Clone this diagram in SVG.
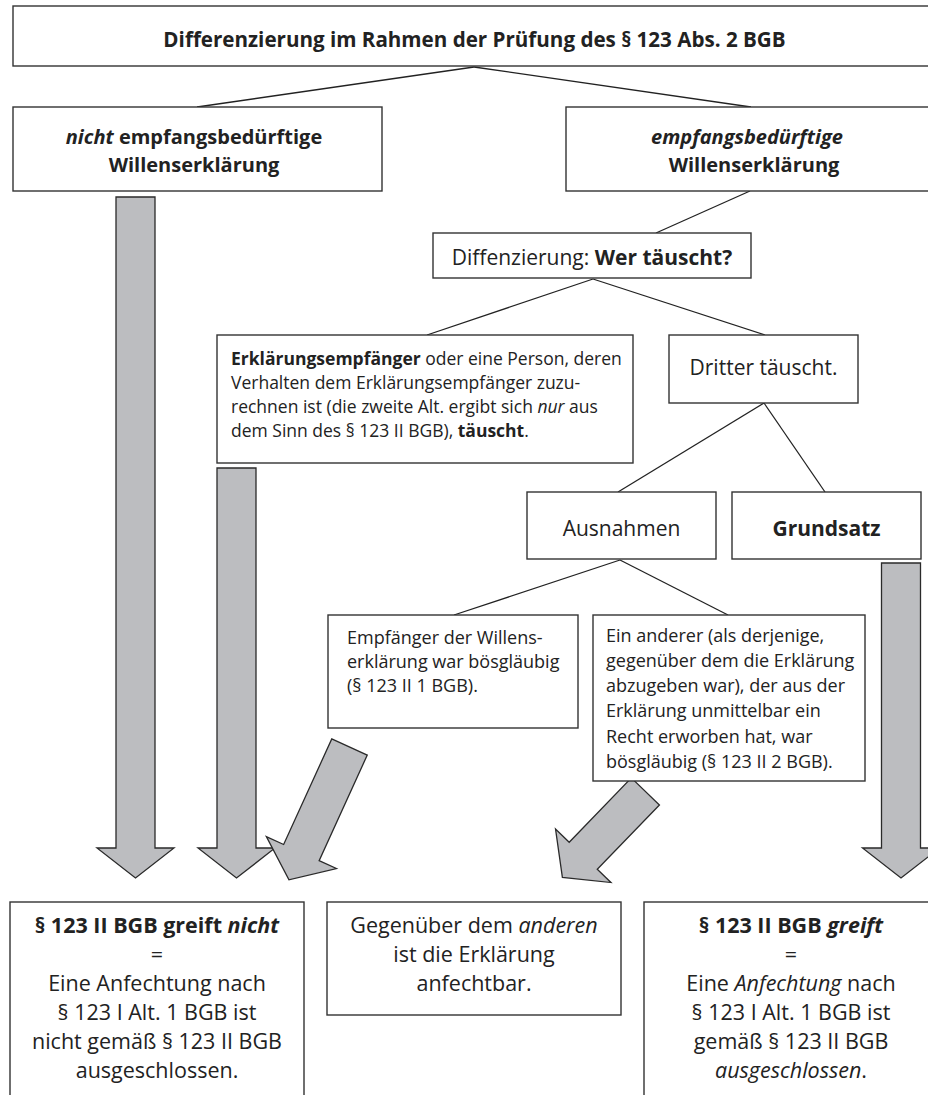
<svg xmlns="http://www.w3.org/2000/svg" width="928" height="1095" viewBox="0 0 928 1095">
<style>
  .box { fill: #fff; stroke: #333; stroke-width: 1.4; }
  .ln { stroke: #222; stroke-width: 1.3; fill: none; }
  .arr { fill: #bcbdc0; stroke: #2a2a2a; stroke-width: 1.3; stroke-linejoin: miter; }
  text { font-family: "Open Sans", Lato, "Noto Sans", sans-serif; fill: #222; }
  .t20b { font-size: 20px; font-weight: bold; }
  .ttl { font-size: 20.6px; font-weight: bold; }
  .t17 { font-size: 17.5px; }
  .t18 { font-size: 18px; }
  .t21 { font-size: 21px; }
  .t215 { font-size: 21.5px; }
  .c { text-anchor: middle; }
  .b { font-weight: bold; }
  .i { font-style: italic; }
</style>

<g id="connectors">
  <line class="ln" x1="474" y1="67" x2="197" y2="107"/>
  <line class="ln" x1="474" y1="67" x2="751" y2="107"/>
  <line class="ln" x1="750" y1="191" x2="656" y2="233"/>
  <line class="ln" x1="593" y1="279" x2="427" y2="335"/>
  <line class="ln" x1="593" y1="279" x2="765" y2="335"/>
  <line class="ln" x1="764" y1="403" x2="618" y2="492"/>
  <line class="ln" x1="764" y1="403" x2="825" y2="492"/>
  <line class="ln" x1="620" y1="560" x2="454" y2="615"/>
  <line class="ln" x1="620" y1="560" x2="728" y2="615"/>
  <!-- block arrows -->
  <path class="arr" transform="translate(135.5,197)" d="M-19.5,0 L19.5,0 L19.5,651 L38.5,651 L0,681 L-38.5,651 L-19.5,651 Z"/>
  <path class="arr" transform="translate(236.5,468)" d="M-19.5,0 L19.5,0 L19.5,380 L38.5,380 L0,410 L-38.5,380 L-19.5,380 Z"/>
  <path class="arr" transform="translate(901,563)" d="M-19.5,0 L19.5,0 L19.5,285 L38.5,285 L0,315 L-38.5,285 L-19.5,285 Z"/>
  <path class="arr" transform="translate(349.5,747) rotate(24.5)" d="M-19.5,0 L19.5,0 L19.5,116 L38.5,116 L0,146 L-38.5,116 L-19.5,116 Z"/>
  <path class="arr" transform="translate(645.4,791.4) rotate(44)" d="M-19.5,0 L19.5,0 L19.5,89.5 L38.5,89.5 L0,119.5 L-38.5,89.5 L-19.5,89.5 Z"/>
</g>

<g id="title">
  <rect class="box" x="13" y="6" width="930" height="60"/>
  <text class="ttl c" x="474.5" y="47">Differenzierung im Rahmen der Prüfung des § 123 Abs. 2 BGB</text>
</g>

<g id="nicht-empfangsbeduerftig">
  <rect class="box" x="13" y="107" width="369" height="84"/>
  <text class="t20b c" x="194" y="144"><tspan class="i">nicht</tspan> empfangsbedürftige</text>
  <text class="t20b c" x="194" y="172">Willenserklärung</text>
</g>

<g id="empfangsbeduerftig">
  <rect class="box" x="566" y="107" width="380" height="84"/>
  <text class="t20b c i" x="747" y="144">empfangsbedürftige</text>
  <text class="t20b c" x="754" y="172">Willenserklärung</text>
</g>

<g id="wer-taeuscht">
  <rect class="box" x="433" y="233" width="318" height="45"/>
  <text class="t21 c" x="592" y="265">Diffenzierung: <tspan class="b">Wer täuscht?</tspan></text>
</g>

<g id="erklaerungsempfaenger">
  <rect class="box" x="217" y="335" width="416" height="128"/>
  <text class="t17" x="231" y="365"><tspan class="b">Erklärungsempfänger</tspan> oder eine Person, deren</text>
  <text class="t17" x="231" y="389">Verhalten dem Erklärungsempfänger zuzu-</text>
  <text class="t17" x="231" y="413">rechnen ist (die zweite Alt. ergibt sich <tspan class="i">nur</tspan> aus</text>
  <text class="t17" x="231" y="437">dem Sinn des § 123 II BGB), <tspan class="b">täuscht</tspan>.</text>
</g>

<g id="dritter">
  <rect class="box" x="669" y="335" width="189" height="68"/>
  <text class="t21 c" x="763.5" y="375">Dritter täuscht.</text>
</g>

<g id="ausnahmen">
  <rect class="box" x="527" y="492" width="189" height="67"/>
  <text class="t21 c" x="621.5" y="536">Ausnahmen</text>
</g>

<g id="grundsatz">
  <rect class="box" x="732" y="492" width="189" height="67"/>
  <text class="t21 c b" x="826.5" y="536">Grundsatz</text>
</g>

<g id="empfaenger-boesglaeubig">
  <rect class="box" x="328" y="615" width="250" height="113"/>
  <text class="t18" x="347" y="644">Empfänger der Willens-</text>
  <text class="t18" x="347" y="668">erklärung war bösgläubig</text>
  <text class="t18" x="347" y="692">(§ 123 II 1 BGB).</text>
</g>

<g id="anderer-boesglaeubig">
  <rect class="box" x="593" y="615" width="272" height="166"/>
  <text class="t18" x="606" y="642">Ein anderer (als derjenige,</text>
  <text class="t18" x="606" y="667">gegenüber dem die Erklärung</text>
  <text class="t18" x="606" y="692">abzugeben war), der aus der</text>
  <text class="t18" x="606" y="717">Erklärung unmittelbar ein</text>
  <text class="t18" x="606" y="743">Recht erworben hat, war</text>
  <text class="t18" x="606" y="768">bösgläubig (§ 123 II 2 BGB).</text>
</g>

<g id="greift-nicht">
  <rect class="box" x="10" y="902" width="294" height="210"/>
  <text class="t215 c b" x="157" y="933">§ 123 II BGB greift <tspan class="i">nicht</tspan></text>
  <text class="t215 c" x="157" y="962">=</text>
  <text class="t215 c" x="157" y="991">Eine Anfechtung nach</text>
  <text class="t215 c" x="157" y="1020">§ 123 I Alt. 1 BGB ist</text>
  <text class="t215 c" x="157" y="1049">nicht gemäß § 123 II BGB</text>
  <text class="t215 c" x="157" y="1078">ausgeschlossen.</text>
</g>

<g id="anfechtbar">
  <rect class="box" x="327" y="902" width="294" height="113"/>
  <text class="t215 c" x="474" y="933">Gegenüber dem <tspan class="i">anderen</tspan></text>
  <text class="t215 c" x="474" y="962">ist die Erklärung</text>
  <text class="t215 c" x="474" y="991">anfechtbar.</text>
</g>

<g id="greift">
  <rect class="box" x="644" y="902" width="300" height="210"/>
  <text class="t215 c b" x="791" y="933">§ 123 II BGB <tspan class="i">greift</tspan></text>
  <text class="t215 c" x="791" y="962">=</text>
  <text class="t215 c" x="791" y="991">Eine <tspan class="i">Anfechtung</tspan> nach</text>
  <text class="t215 c" x="791" y="1020">§ 123 I Alt. 1 BGB ist</text>
  <text class="t215 c" x="791" y="1049">gemäß § 123 II BGB</text>
  <text class="t215 c" x="791" y="1078"><tspan class="i">ausgeschlossen</tspan>.</text>
</g>
</svg>
